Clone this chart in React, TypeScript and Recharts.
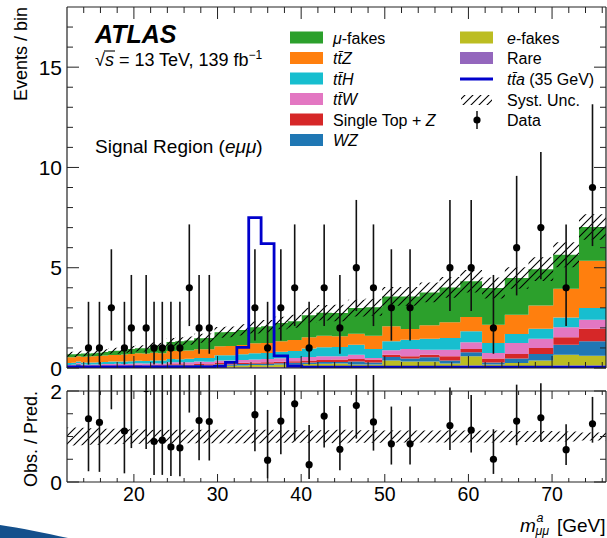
import React from 'react';
import { ComposedChart, Area, Line, Scatter, ErrorBar, XAxis, YAxis } from 'recharts';

const FONT = '"Liberation Sans", Arial, Helvetica, sans-serif';

// m_mumu^a bin edges [GeV]
const binEdges = [12, 12.53, 13.08, 13.65, 14.26, 14.88, 15.54, 16.22, 16.93, 17.68, 18.46, 19.27, 20.12, 21.0, 21.93, 22.89, 23.9, 24.95, 26.05, 27.2, 28.39, 29.64, 30.95, 32.31, 33.73, 35.21, 36.76, 38.38, 40.07, 41.83, 43.67, 45.59, 47.6, 49.69, 51.88, 54.16, 56.55, 59.03, 61.63, 64.35, 67.18, 70.14, 73.22, 76.45];

// stacked backgrounds (events per bin), bottom to top
const rareBkg = [0.02, 0.02, 0.02, 0.02, 0.02, 0.02, 0.02, 0.02, 0.02, 0.02, 0.02, 0.02, 0.02, 0.02, 0.02, 0.02, 0.03, 0.03, 0.03, 0.03, 0.03, 0.04, 0.04, 0.04, 0.05, 0.05, 0.05, 0.05, 0.06, 0.06, 0.08, 0.07, 0.07, 0.08, 0.08, 0.08, 0.08, 0.13, 0.08, 0.1, 0.1, 0.13, 0.13];
const eFakes = [0.02, 0.01, 0.02, 0.03, 0.02, 0.03, 0.02, 0.04, 0.03, 0.02, 0.03, 0.04, 0.05, 0.03, 0.06, 0.03, 0.06, 0.05, 0.04, 0.06, 0.05, 0.08, 0.07, 0.09, 0.1, 0.09, 0.12, 0.13, 0.14, 0.15, 0.14, 0.1, 0.1, 0.3, 0.25, 0.25, 0.14, 0.45, 0.09, 0.15, 0.27, 0.53, 0.48];
const wz = [0.04, 0.06, 0.15, 0.04, 0.05, 0.04, 0.05, 0.04, 0.05, 0.05, 0.04, 0.05, 0.05, 0.04, 0.04, 0.05, 0.05, 0.06, 0.05, 0.06, 0.05, 0.07, 0.06, 0.07, 0.06, 0.07, 0.07, 0.08, 0.08, 0.09, 0.08, 0.16, 0.11, 0.17, 0.14, 0.2, 0.16, 0.2, 0.11, 0.22, 0.33, 0.5, 0.72];
const singleTopZ = [0.02, 0.03, 0.02, 0.03, 0.02, 0.03, 0.03, 0.03, 0.03, 0.04, 0.03, 0.03, 0.04, 0.04, 0.04, 0.04, 0.05, 0.05, 0.06, 0.05, 0.06, 0.06, 0.07, 0.06, 0.07, 0.08, 0.07, 0.08, 0.09, 0.1, 0.12, 0.12, 0.14, 0.11, 0.11, 0.13, 0.2, 0.17, 0.19, 0.23, 0.3, 0.37, 0.63];
const ttW = [0.05, 0.04, 0.04, 0.06, 0.05, 0.06, 0.06, 0.07, 0.07, 0.08, 0.08, 0.07, 0.08, 0.09, 0.08, 0.09, 0.1, 0.1, 0.11, 0.12, 0.12, 0.13, 0.14, 0.14, 0.15, 0.16, 0.17, 0.16, 0.18, 0.19, 0.16, 0.21, 0.08, 0.22, 0.37, 0.25, 0.33, 0.33, 0.28, 0.55, 0.46, 0.5, 0.45];
const ttH = [0.1, 0.1, 0.08, 0.1, 0.11, 0.1, 0.11, 0.1, 0.12, 0.11, 0.12, 0.13, 0.12, 0.13, 0.14, 0.14, 0.16, 0.15, 0.17, 0.18, 0.19, 0.25, 0.26, 0.28, 0.3, 0.3, 0.33, 0.35, 0.42, 0.44, 0.47, 0.5, 0.45, 0.45, 0.46, 0.55, 0.59, 0.55, 0.5, 0.44, 0.5, 0.49, 0.58];
const ttZ = [0.28, 0.27, 0.25, 0.28, 0.3, 0.3, 0.31, 0.32, 0.33, 0.33, 0.35, 0.36, 0.37, 0.37, 0.38, 0.37, 0.4, 0.42, 0.41, 0.43, 0.44, 0.45, 0.46, 0.47, 0.5, 0.5, 0.53, 0.55, 0.56, 0.58, 0.53, 0.55, 0.66, 0.75, 0.53, 0.67, 0.78, 0.71, 0.91, 0.97, 1.16, 1.43, 2.36];
const muFakes = [0.15, 0.15, 0.12, 0.16, 0.15, 0.16, 0.16, 0.18, 0.2, 0.21, 0.22, 0.25, 0.25, 0.26, 0.36, 0.35, 0.45, 0.47, 0.5, 0.55, 0.56, 0.7, 0.7, 0.75, 0.8, 0.83, 0.9, 0.93, 1.1, 1.15, 1.16, 1.28, 1.42, 1.49, 1.63, 1.64, 1.74, 1.78, 1.83, 1.83, 1.81, 1.7, 1.68];

// signal tta (35 GeV)
const signal35 = [0.05, 0.05, 0.05, 0.05, 0.05, 0.05, 0.05, 0.05, 0.05, 0.05, 0.05, 0.05, 0.05, 0.05, 0.05, 0.05, 0.05, 0.05, 0.05, 0.05, 0.05, 0.08, 0.28, 1.03, 7.5, 6.2, 0.6, 0.1, 0.04, 0.04, 0.04, 0.04, 0.04, 0.04, 0.04, 0.04, 0.04, 0.04, 0.04, 0.04, 0.04, 0.04, 0.04];

// relative systematic uncertainty per bin
const systUnc = [0.2, 0.2, 0.19, 0.19, 0.18, 0.18, 0.18, 0.17, 0.17, 0.17, 0.16, 0.16, 0.16, 0.16, 0.15, 0.15, 0.15, 0.15, 0.15, 0.15, 0.15, 0.15, 0.15, 0.15, 0.15, 0.15, 0.14, 0.14, 0.14, 0.14, 0.15, 0.14, 0.14, 0.13, 0.13, 0.13, 0.13, 0.13, 0.13, 0.12, 0.12, 0.11, 0.09];

// data (non-empty bins)
const dataBins = [4, 6, 8, 10, 11, 13, 14, 15, 16, 17, 18, 19, 20, 24, 25, 26, 27, 28, 29, 30, 31, 32, 33, 34, 36, 37, 38, 39, 40, 41, 42];
const dataCounts = [1, 1, 3, 1, 2, 2, 1, 1, 1, 1, 4, 2, 2, 3, 1, 3, 4, 1, 4, 2, 5, 4, 3, 3, 5, 5, 2, 6, 7, 4, 9];
const dataErrLow = [0.83, 0.83, 1.63, 0.83, 1.29, 1.29, 0.83, 0.83, 0.83, 0.83, 1.91, 1.29, 1.29, 1.63, 0.83, 1.63, 1.91, 0.83, 1.91, 1.29, 2.16, 1.91, 1.63, 1.63, 2.16, 2.16, 1.29, 2.38, 2.58, 1.91, 2.92];
const dataErrHigh = [2.3, 2.3, 2.92, 2.3, 2.64, 2.64, 2.3, 2.3, 2.3, 2.3, 3.16, 2.64, 2.64, 2.92, 2.3, 2.92, 3.16, 2.3, 3.16, 2.64, 3.38, 3.16, 2.92, 2.92, 3.38, 3.38, 2.64, 3.58, 3.77, 3.16, 4.15];
const ratioValues = [1.39, 1.31, 3.5, 1.12, 2.1, 2.05, 0.89, 0.92, 0.77, 0.75, 2.92, 1.35, 1.33, 1.48, 0.48, 1.34, 1.72, 0.38, 1.45, 0.72, 1.68, 1.32, 0.84, 0.84, 1.24, 1.14, 0.5, 1.34, 1.41, 0.71, 1.28];

// axis ticks
const xTicks = [14, 16, 18, 20, 22, 24, 26, 28, 30, 32, 34, 36, 38, 40, 42, 44, 46, 48, 50, 52, 54, 56, 58, 60, 62, 64, 66, 68, 70, 72, 74, 76];
const xMajor = [20, 30, 40, 50, 60, 70];
const yTicksMain = [0, 1, 2, 3, 4, 5, 6, 7, 8, 9, 10, 11, 12, 13, 14, 15, 16, 17];
const yMajorMain = [0, 5, 10, 15];
const yTicksRatio = [0, 0.5, 1, 1.5, 2];
const yMajorRatio = [0, 2];

const components = [
  { key: 'rare', name: 'Rare', color: '#9467bd', values: rareBkg },
  { key: 'efakes', name: 'e-fakes', color: '#bcbd22', values: eFakes },
  { key: 'wz', name: 'WZ', color: '#1f77b4', values: wz },
  { key: 'stz', name: 'Single Top + Z', color: '#d62728', values: singleTopZ },
  { key: 'ttw', name: 'ttW', color: '#e377c2', values: ttW },
  { key: 'tth', name: 'ttH', color: '#17becf', values: ttH },
  { key: 'ttz', name: 'ttZ', color: '#ff7f0e', values: ttZ },
  { key: 'mufakes', name: 'mu-fakes', color: '#2ca02c', values: muFakes },
];
const colorOf = (k: string) => components.find((c) => c.key === k)!.color;

const nBins = binEdges.length - 1;
const histRows = binEdges.map((x, i) => {
  const b = Math.min(i, nBins - 1);
  const row: any = { x };
  let total = 0;
  components.forEach((c) => {
    row[c.key] = c.values[b];
    total += c.values[b];
  });
  row.band = [total * (1 - systUnc[b]), total * (1 + systUnc[b])];
  row.rband = [1 - systUnc[b], 1 + systUnc[b]];
  row.sig = signal35[b];
  return row;
});

const binCenter = (b: number) => (binEdges[b] + binEdges[b + 1]) / 2;
const dataPoints = dataBins.map((b, i) => ({ x: binCenter(b), y: dataCounts[i], err: [dataErrLow[i], dataErrHigh[i]] }));
const ratioPoints = dataBins.map((b, i) => ({
  x: binCenter(b),
  y: ratioValues[i],
  err: [(ratioValues[i] * dataErrLow[i]) / dataCounts[i], (ratioValues[i] * dataErrHigh[i]) / dataCounts[i]],
}));

const TICK_COLOR = '#222';

function makeXTick(side: 'top' | 'bottom', majorLen: number, minorLen: number, withLabel: boolean) {
  return (props: any) => {
    const { x, y, payload } = props;
    const v = payload.value;
    const isMajor = xMajor.includes(v);
    const len = isMajor ? majorLen : minorLen;
    const y2 = side === 'bottom' ? y - len : y + len;
    return (
      <g>
        <line x1={x} x2={x} y1={y} y2={y2} stroke={TICK_COLOR} strokeWidth={1} />
        {withLabel && isMajor ? (
          <text x={x} y={y + 19} textAnchor="middle" fontSize={19.5} fontFamily={FONT} fill="#000">
            {v}
          </text>
        ) : null}
      </g>
    );
  };
}

function makeYTick(side: 'left' | 'right', majors: number[], majorLen: number, minorLen: number, withLabel: boolean) {
  return (props: any) => {
    const { x, y, payload } = props;
    const v = payload.value;
    const isMajor = majors.includes(v);
    const len = isMajor ? majorLen : minorLen;
    const x2 = side === 'left' ? x + len : x - len;
    return (
      <g>
        <line x1={x} x2={x2} y1={y} y2={y} stroke={TICK_COLOR} strokeWidth={1} />
        {withLabel && isMajor ? (
          <text x={x - 5} y={y + 7.5} textAnchor="end" fontSize={21} fontFamily={FONT} fill="#000">
            {v}
          </text>
        ) : null}
      </g>
    );
  };
}

const dot = (p: any) => <circle cx={p.cx} cy={p.cy} r={3.6} fill="#000" />;
const axisLine = { stroke: '#222', strokeWidth: 1.2 };

const HatchPattern = ({ id }: { id: string }) => (
  <pattern id={id} patternUnits="userSpaceOnUse" width={8} height={8}>
    <path d="M-1,1 L1,-1 M0,8 L8,0 M7,9 L9,7" stroke="#000" strokeWidth={1.1} fill="none" />
  </pattern>
);

function MainPanel() {
  return (
    <ComposedChart width={607} height={390} data={histRows} margin={{ top: 0, right: 0, bottom: 0, left: 0 }}>
      <defs>
        <HatchPattern id="hatchMain" />
      </defs>
      <XAxis xAxisId="b" dataKey="x" type="number" domain={[12, 76.45]} allowDataOverflow ticks={xTicks} interval={0}
        tickSize={0} tickMargin={0} tickLine={false} tick={makeXTick('bottom', 12, 6, false)} height={22} axisLine={axisLine} />
      <XAxis xAxisId="t" orientation="top" dataKey="x" type="number" domain={[12, 76.45]} allowDataOverflow ticks={xTicks} interval={0}
        tickSize={0} tickMargin={0} tickLine={false} tick={makeXTick('top', 12, 6, false)} height={7} axisLine={axisLine} />
      <YAxis yAxisId="l" type="number" domain={[0, 18]} allowDataOverflow ticks={yTicksMain} interval={0} width={67}
        tickSize={0} tickMargin={0} tickLine={false} tick={makeYTick('left', yMajorMain, 12, 6, true)} axisLine={axisLine} />
      <YAxis yAxisId="r" orientation="right" type="number" domain={[0, 18]} allowDataOverflow ticks={yTicksMain} interval={0} width={1}
        tickSize={0} tickMargin={0} tickLine={false} tick={makeYTick('right', yMajorMain, 12, 6, false)} axisLine={axisLine} />
      {components.map((c) => (
        <Area key={c.key} xAxisId="b" yAxisId="l" stackId="bkg" type="stepAfter" dataKey={c.key} fill={c.color} fillOpacity={1}
          stroke="none" dot={false} activeDot={false} isAnimationActive={false} />
      ))}
      <Area xAxisId="b" yAxisId="l" type="stepAfter" dataKey="band" fill="url(#hatchMain)" fillOpacity={1} stroke="none"
        dot={false} activeDot={false} isAnimationActive={false} />
      <Line xAxisId="b" yAxisId="l" type="stepAfter" dataKey="sig" stroke="#0000cc" strokeWidth={2.8} dot={false} activeDot={false}
        isAnimationActive={false} />
      <Scatter xAxisId="b" yAxisId="l" data={dataPoints} dataKey="y" fill="#000" shape={dot} isAnimationActive={false}>
        <ErrorBar dataKey="err" direction="y" width={0} stroke="#111" strokeWidth={1.6} />
      </Scatter>
    </ComposedChart>
  );
}

function RatioPanel() {
  return (
    <ComposedChart width={607} height={163} data={histRows} margin={{ top: 0, right: 0, bottom: 0, left: 0 }}>
      <defs>
        <HatchPattern id="hatchRatio" />
      </defs>
      <XAxis xAxisId="b" dataKey="x" type="number" domain={[12, 76.45]} allowDataOverflow ticks={xTicks} interval={0}
        tickSize={0} tickMargin={0} tickLine={false} tick={makeXTick('bottom', 8, 4, true)} height={56} axisLine={axisLine} />
      <XAxis xAxisId="t" orientation="top" dataKey="x" type="number" domain={[12, 76.45]} allowDataOverflow ticks={xTicks} interval={0}
        tickSize={0} tickMargin={0} tickLine={false} tick={makeXTick('top', 8, 4, false)} height={16} axisLine={axisLine} />
      <YAxis yAxisId="l" type="number" domain={[0, 2]} allowDataOverflow ticks={yTicksRatio} interval={0} width={67}
        tickSize={0} tickMargin={0} tickLine={false} tick={makeYTick('left', yMajorRatio, 12, 6, true)} axisLine={axisLine} />
      <YAxis yAxisId="r" orientation="right" type="number" domain={[0, 2]} allowDataOverflow ticks={yTicksRatio} interval={0} width={1}
        tickSize={0} tickMargin={0} tickLine={false} tick={makeYTick('right', yMajorRatio, 12, 6, false)} axisLine={axisLine} />
      <Area xAxisId="b" yAxisId="l" type="stepAfter" dataKey="rband" fill="url(#hatchRatio)" fillOpacity={1} stroke="none"
        dot={false} activeDot={false} isAnimationActive={false} />
      <Scatter xAxisId="b" yAxisId="l" data={ratioPoints} dataKey="y" fill="#000" shape={dot} isAnimationActive={false}>
        <ErrorBar dataKey="err" direction="y" width={0} stroke="#111" strokeWidth={1.6} />
      </Scatter>
    </ComposedChart>
  );
}

const tbar = 't\u0304';

function Overlay() {
  const leftRows = [
    { y: 37.5, color: colorOf('mufakes'), label: <><tspan fontStyle="italic">μ</tspan>-fakes</> },
    { y: 58, color: colorOf('ttz'), label: <tspan fontStyle="italic">{'t' + tbar + 'Z'}</tspan> },
    { y: 78.5, color: colorOf('tth'), label: <tspan fontStyle="italic">{'t' + tbar + 'H'}</tspan> },
    { y: 99, color: colorOf('ttw'), label: <tspan fontStyle="italic">{'t' + tbar + 'W'}</tspan> },
    { y: 119.5, color: colorOf('stz'), label: <>Single Top + <tspan fontStyle="italic">Z</tspan></> },
    { y: 140, color: colorOf('wz'), label: <tspan fontStyle="italic">WZ</tspan> },
  ];
  return (
    <svg width={607} height={538} style={{ position: 'absolute', left: 0, top: 0, pointerEvents: 'none' }} fontFamily={FONT}>
      <defs>
        <HatchPattern id="hatchLeg" />
      </defs>
      <text x={95} y={43} fontSize={25} fontWeight="bold" fontStyle="italic" fill="#000">ATLAS</text>
      <text x={95} y={66} fontSize={18} fill="#000">
        √<tspan fontStyle="italic">s</tspan> = 13 TeV, 139 fb<tspan dy={-7} fontSize={12}>−1</tspan>
      </text>
      <line x1={104} x2={115} y1={51} y2={51} stroke="#000" strokeWidth={1.1} />
      <text x={95} y={153} fontSize={19} fill="#000">
        Signal Region (<tspan fontStyle="italic">eμμ</tspan>)
      </text>

      {leftRows.map((r, i) => (
        <g key={i}>
          <rect x={290} y={r.y - 6} width={33} height={12} fill={r.color} />
          <text x={333} y={r.y + 6} fontSize={16} fill="#000">{r.label}</text>
        </g>
      ))}

      <rect x={460} y={31.5} width={33} height={12} fill={colorOf('efakes')} />
      <text x={507} y={43.5} fontSize={16} fill="#000"><tspan fontStyle="italic">e</tspan>-fakes</text>
      <rect x={460} y={52} width={33} height={12} fill={colorOf('rare')} />
      <text x={507} y={64} fontSize={16} fill="#000">Rare</text>
      <line x1={460} x2={493} y1={79} y2={79} stroke="#0000cc" strokeWidth={3} />
      <text x={507} y={85} fontSize={16} fill="#000"><tspan fontStyle="italic">{'t' + tbar + 'a'}</tspan> (35 GeV)</text>
      <rect x={461} y={95} width={31} height={10} fill="url(#hatchLeg)" />
      <text x={507} y={105.5} fontSize={16} fill="#000">Syst. Unc.</text>
      <line x1={477} x2={477} y1={111} y2={129} stroke="#111" strokeWidth={1.5} />
      <circle cx={477} cy={120} r={3.6} fill="#000" />
      <text x={507} y={126} fontSize={16} fill="#000">Data</text>

      <text transform="translate(27,7) rotate(-90)" textAnchor="end" fontSize={18} fill="#000">Events / bin</text>
      <text transform="translate(37,391) rotate(-90)" textAnchor="end" fontSize={18} fill="#000">Obs. / Pred.</text>

      <text x={520} y={532} fontSize={19} fontStyle="italic" fill="#000">m</text>
      <text x={536.5} y={522} fontSize={12.5} fontStyle="italic" fill="#000">a</text>
      <text x={535.5} y={535} fontSize={12.5} fontStyle="italic" fill="#000">μμ</text>
      <text x={557} y={532} fontSize={19} fill="#000">[GeV]</text>

      <path d="M0,525 C20,528 45,533 68,538 L0,538 Z" fill="#14508c" />
    </svg>
  );
}

export default function App() {
  return (
    <div style={{ position: 'absolute', left: 0, top: 0, width: 607, height: 538, background: '#fff', overflow: 'hidden' }}>
      <div style={{ position: 'absolute', left: 0, top: 0 }}>
        <MainPanel />
      </div>
      <div style={{ position: 'absolute', left: 0, top: 375 }}>
        <RatioPanel />
      </div>
      <Overlay />
    </div>
  );
}
